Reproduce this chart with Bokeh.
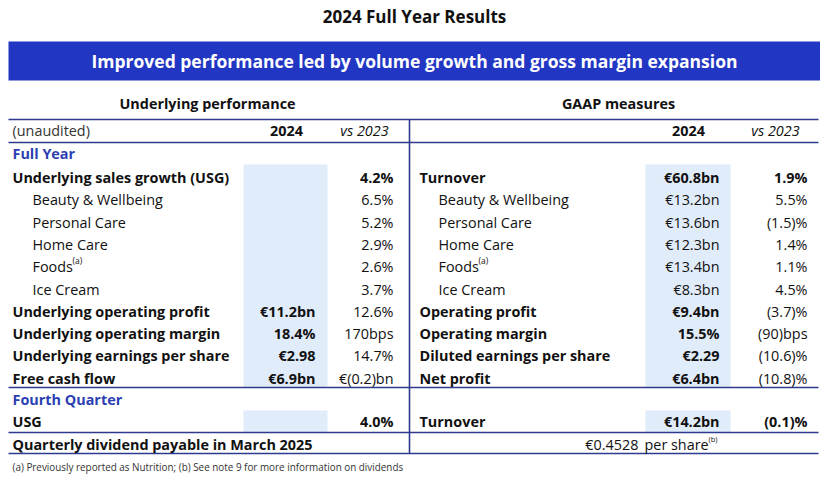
from bokeh.plotting import figure
from bokeh.models import ColumnDataSource, Range1d
from bokeh.core.properties import value
from bokeh.embed import file_html
from bokeh.resources import INLINE

# ---------------- data ----------------
title = "2024 Full Year Results"
banner = "Improved performance led by volume growth and gross margin expansion"
left_header = "Underlying performance"
right_header = "GAAP measures"
col_label = "(unaudited)"
col_year = "2024"
col_vs = "vs 2023"
sec_full = "Full Year"
sec_q4 = "Fourth Quarter"

left_top_label = "Underlying sales growth (USG)"
left_top_2024 = ""
left_top_vs = "4.2%"
right_top_label = "Turnover"
right_top_2024 = "€60.8bn"
right_top_vs = "1.9%"

segments = ["Beauty & Wellbeing", "Personal Care", "Home Care", "Foods", "Ice Cream"]
segment_notes = ["", "", "", "(a)", ""]
left_seg_vs = ["6.5%", "5.2%", "2.9%", "2.6%", "3.7%"]
right_seg_2024 = ["€13.2bn", "€13.6bn", "€12.3bn", "€13.4bn", "€8.3bn"]
right_seg_vs = ["5.5%", "(1.5)%", "1.4%", "1.1%", "4.5%"]

left_metrics = ["Underlying operating profit", "Underlying operating margin",
                "Underlying earnings per share", "Free cash flow"]
left_metrics_2024 = ["€11.2bn", "18.4%", "€2.98", "€6.9bn"]
left_metrics_vs = ["12.6%", "170bps", "14.7%", "€(0.2)bn"]
right_metrics = ["Operating profit", "Operating margin",
                 "Diluted earnings per share", "Net profit"]
right_metrics_2024 = ["€9.4bn", "15.5%", "€2.29", "€6.4bn"]
right_metrics_vs = ["(3.7)%", "(90)bps", "(10.6)%", "(10.8)%"]

q4_left_label = "USG"
q4_left_2024 = ""
q4_left_vs = "4.0%"
q4_right_label = "Turnover"
q4_right_2024 = "€14.2bn"
q4_right_vs = "(0.1)%"

dividend_label = "Quarterly dividend payable in March 2025"
dividend_value = "€0.4528"
dividend_unit = "per share"
dividend_note = "(b)"
footnote = "(a) Previously reported as Nutrition; (b) See note 9 for more information on dividends"

# ---------------- layout / style ----------------
FONT = "Open Sans"
BLUE = "#2236c4"
NAVY = "#2e3a8e"
SECTION = "#2b3fb2"
SHADE = "#e1ecfb"
TXT = "#111111"
FS = 14.4

W, H = 820, 474
p = figure(width=W, height=H, output_backend="svg", toolbar_location=None,
           x_range=Range1d(0, W), y_range=Range1d(H, 0),
           min_border=0, outline_line_color=None, background_fill_color="white")
p.axis.visible = False
p.grid.visible = False

ROW0 = 177.0
DY = 22.3
main_rows = [ROW0 + i * DY for i in range(10)]
y_q4_head = 399
y_q4 = 421
y_div = 444

# shading
p.quad(left=[243, 645], right=[327, 730], top=[164, 164], bottom=[387, 387],
       fill_color=SHADE, line_color=None)
p.quad(left=[243, 645], right=[327, 730], top=[410, 410], bottom=[432, 432],
       fill_color=SHADE, line_color=None)

# banner
p.quad(left=[8], right=[820], top=[41], bottom=[80], fill_color=BLUE, line_color=None)

# rules
for yy in [119, 142, 387, 432, 453]:
    p.line([8, 818], [yy, yy], line_color=NAVY, line_width=1.6)
p.line([409, 409], [119, 453], line_color=NAVY, line_width=1.6)


def txt(x, y, texts, size=FS, bold=False, align="left", color=TXT, italic=False, baseline="middle"):
    if isinstance(texts, str):
        texts = [texts]
    if not isinstance(x, list):
        x = [x] * len(texts)
    if not isinstance(y, list):
        y = [y] * len(texts)
    src = ColumnDataSource(dict(x=x, y=y, t=texts))
    style = "bold" if bold else "normal"
    if italic:
        style = "bold italic" if bold else "italic"
    p.text("x", "y", text="t", source=src, text_font=value(FONT),
           text_font_size=f"{size}px", text_font_style=style, text_align=align,
           text_baseline=baseline, text_color=color)


# titles
txt(414, 16, title, size=17, bold=True, align="center")
txt(414, 60, banner, size=17.5, bold=True, align="center", color="white")
txt(207, 103, left_header, bold=True, align="center")
txt(618, 103, right_header, bold=True, align="center")

# column header row
txt(12, 130, col_label, color="#333333")
txt([286, 688], 130, [col_year, col_year], bold=True, align="center")
txt([364, 775], 130, [col_vs, col_vs], italic=True, align="center")

# sections
txt([12, 12], [153, y_q4_head], [sec_full, sec_q4], bold=True, color=SECTION)

LX, LXI, LV, LC = 12, 32, 315, 393
RX, RXI, RV, RC = 419, 438, 719, 807

# top line rows
txt(LX, main_rows[0], left_top_label, bold=True)
txt(LV, main_rows[0], left_top_2024, bold=True, align="right")
txt(LC, main_rows[0], left_top_vs, bold=True, align="right")
txt(RX, main_rows[0], right_top_label, bold=True)
txt(RV, main_rows[0], right_top_2024, bold=True, align="right")
txt(RC, main_rows[0], right_top_vs, bold=True, align="right")

# segments
seg_y = main_rows[1:6]
txt(LXI, seg_y, segments)
txt(LC, seg_y, left_seg_vs, align="right")
txt(RXI, seg_y, segments)
txt(RV, seg_y, right_seg_2024, align="right")
txt(RC, seg_y, right_seg_vs, align="right")
# superscript notes after segment names (Foods)
for i, note in enumerate(segment_notes):
    if note:
        txt([LXI + 40, RXI + 40], seg_y[i] - 6, [note, note], size=8.5)

# metrics
met_y = main_rows[6:10]
txt(LX, met_y, left_metrics, bold=True)
txt(LV, met_y, left_metrics_2024, bold=True, align="right")
txt(LC, met_y, left_metrics_vs, align="right")
txt(RX, met_y, right_metrics, bold=True)
txt(RV, met_y, right_metrics_2024, bold=True, align="right")
txt(RC, met_y, right_metrics_vs, align="right")

# fourth quarter
txt(LX, y_q4, q4_left_label, bold=True)
txt(LV, y_q4, q4_left_2024, bold=True, align="right")
txt(LC, y_q4, q4_left_vs, bold=True, align="right")
txt(RX, y_q4, q4_right_label, bold=True)
txt(RV, y_q4, q4_right_2024, bold=True, align="right")
txt(RC, y_q4, q4_right_vs, bold=True, align="right")

# dividend
txt(LX, y_div, dividend_label, bold=True)
txt(638, y_div, dividend_value, align="right")
txt(644, y_div, dividend_unit)
txt(708, y_div - 6, dividend_note, size=7.5)

# footnote
txt(12, 466, footnote, size=9.9, color="#333333")

open("out.html", "w").write(file_html(p, INLINE))
